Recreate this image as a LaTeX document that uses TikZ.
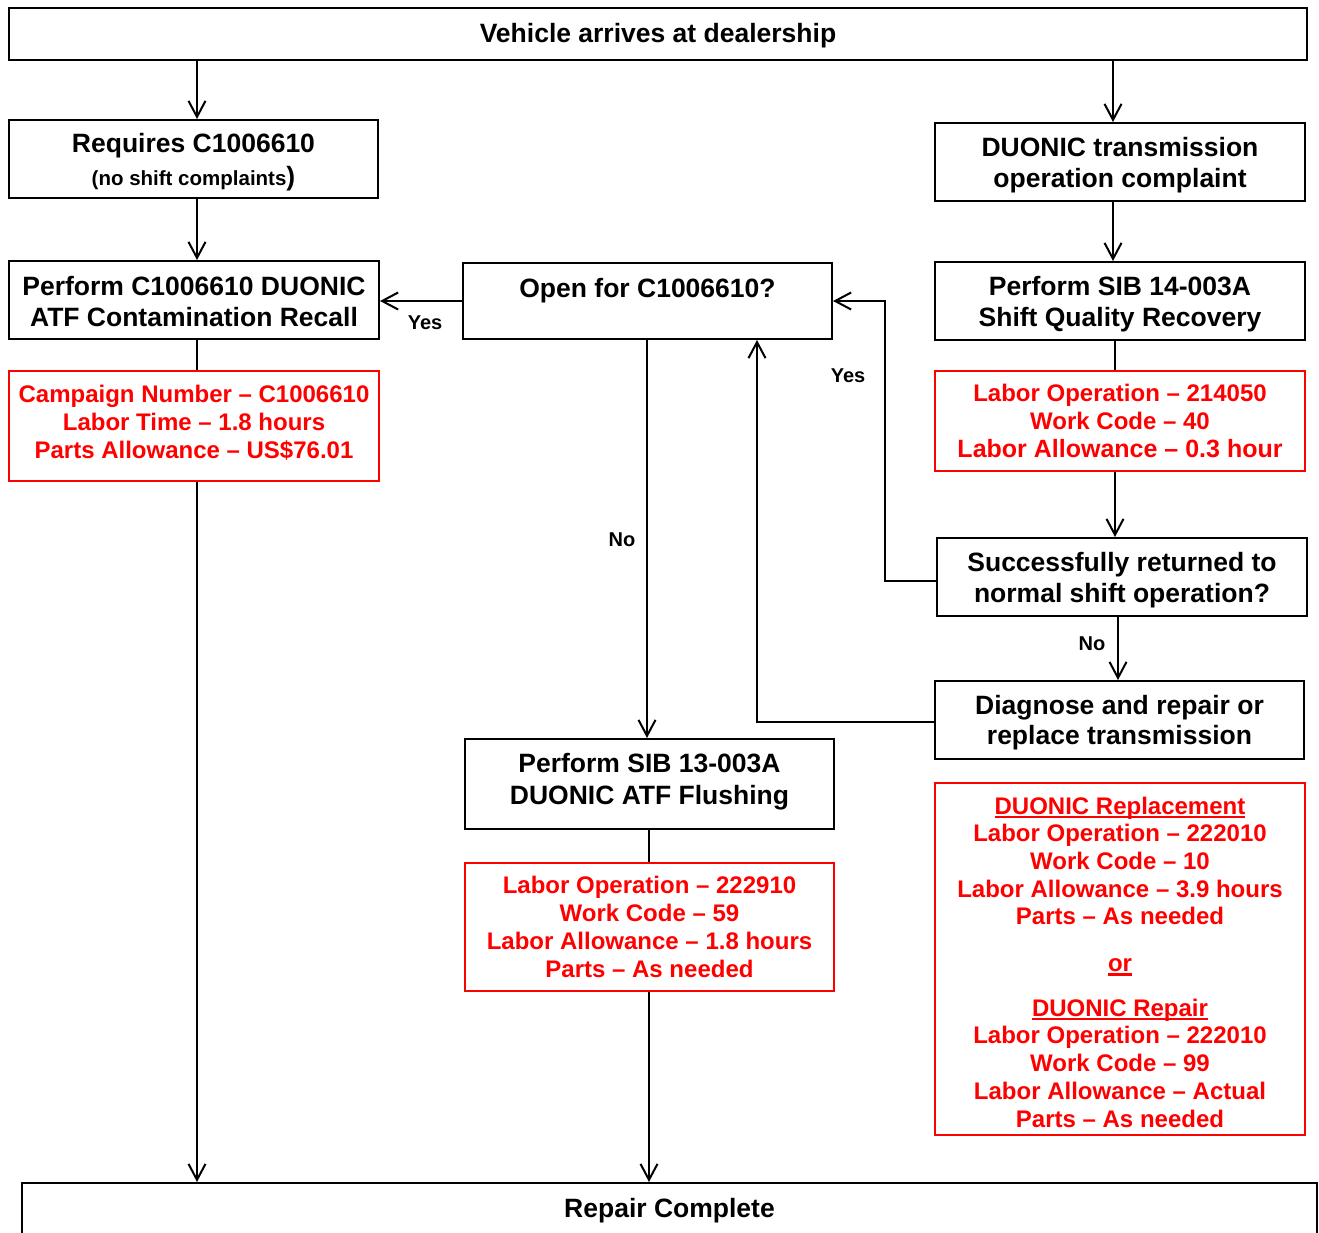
\documentclass[tikz,border=0pt]{standalone}
\usepackage{fontspec}
\setmainfont{Liberation Sans}
\usetikzlibrary{arrows.meta}
\newcommand\myul[1]{\setbox0\hbox{#1}\rlap{\rule[-4pt]{\wd0}{2.3pt}}\box0}
\begin{document}
\begin{tikzpicture}[x=1pt,y=-1pt,
  box/.style={draw=black, line width=2pt, inner sep=0pt},
  redbox/.style={draw=red, line width=2pt, inner sep=0pt},
  txt/.style={inner sep=0pt, align=center, text=black,
    font=\bfseries\fontsize{26.5}{31}\selectfont},
  redtxt/.style={inner sep=0pt, align=center, text=red,
    font=\bfseries\fontsize{24}{28}\selectfont},
  conn/.style={draw=black, line width=2pt},
  arr/.style={conn, -{Straight Barb[length=16pt,width=17pt,line width=2pt]}},
  lbl/.style={font=\bfseries\fontsize{20}{24}\selectfont, inner sep=0pt}]
\useasboundingbox (0,0) rectangle (1319,1232);
\fill[white] (0,0) rectangle (1319,1232);

% boxes
\node[box, minimum width=1298, minimum height=52] (top) at (658,34) {};
\node[txt] (topT) at (658,36) {Vehicle arrives at dealership};
\node[box, minimum width=369, minimum height=78] (req) at (193.5,159) {};
\node[txt] (reqT) at (193.5,162)
  {Requires C1006610\\[2pt]{\fontsize{20.5}{31}\selectfont(no shift complaints}\/)};
\node[box, minimum width=370, minimum height=78] (duo) at (1120,162) {};
\node[txt] (duoT) at (1120,165) {DUONIC transmission\\operation complaint};
\node[box, minimum width=370, minimum height=78] (perfC) at (194,300) {};
\node[txt] (perfCT) at (194,301.5) {Perform C1006610 DUONIC\\ATF Contamination Recall};
\node[box, minimum width=369, minimum height=76] (open) at (647.5,301) {};
\node[txt] (openT) at (647.5,291) {Open for C1006610?};
\node[box, minimum width=370, minimum height=78] (sib14) at (1120,301) {};
\node[txt] (sib14T) at (1120,304) {Perform SIB 14-003A\\Shift Quality Recovery};
\node[redbox, minimum width=370, minimum height=110] (redL) at (194,426) {};
\node[redtxt] (redLT) at (194,423)
  {Campaign Number – C1006610\\Labor Time – 1.8 hours\\Parts Allowance – US\$76.01};
\node[redbox, minimum width=370, minimum height=100] (redR) at (1120,421) {};
\node[redtxt] (redRT) at (1120,421)
  {Labor Operation – 214050\\Work Code – 40\\{\fontsize{25}{28}\selectfont Labor Allowance – 0.3 hour}};
\node[box, minimum width=370, minimum height=78] (succ) at (1122,577) {};
\node[txt] (succT) at (1122,580) {Successfully returned to\\normal shift operation?};
\node[box, minimum width=369, minimum height=78] (diag) at (1119.5,720) {};
\node[txt, font=\bfseries\fontsize{26.5}{30}\selectfont] (diagT) at (1119.5,723)
  {Diagnose and repair or\\replace transmission};
\node[box, minimum width=369, minimum height=90] (sib13) at (649.5,784) {};
\node[txt, font=\bfseries\fontsize{26.5}{32}\selectfont] (sib13T) at (649.5,782)
  {Perform SIB 13-003A\\DUONIC ATF Flushing};
\node[redbox, minimum width=369, minimum height=128] (redM) at (649.5,927) {};
\node[redtxt] (redMT) at (649.5,927)
  {Labor Operation – 222910\\Work Code – 59\\Labor Allowance – 1.8 hours\\Parts – As needed};
\node[redbox, minimum width=370, minimum height=352] (redB) at (1120,959) {};
\node[redtxt, font=\bfseries\fontsize{24}{27.7}\selectfont] (redBT) at (1120,962)
  {\myul{DUONIC Replacement}\\Labor Operation – 222010\\Work Code – 10\\Labor Allowance – 3.9 hours\\Parts – As needed\\[19pt]
   \myul{or}\\[17pt]
   \myul{DUONIC Repair}\\Labor Operation – 222010\\Work Code – 99\\Labor Allowance – Actual\\Parts – As needed};
\node[box, minimum width=1295, minimum height=51] (rep) at (669.5,1208.5) {};
\node[txt] (repT) at (669.5,1210.5) {Repair Complete};

% connectors
\draw[arr] (top.south -| 197,0) -- (req.north -| 197,0);
\draw[arr] (top.south -| 1113,0) -- (duo.north -| 1113,0);
\draw[arr] (req.south -| 197,0) -- (perfC.north -| 197,0);
\draw[arr] (duo.south -| 1113,0) -- (sib14.north -| 1113,0);
\draw[arr] (open.west) -- (perfC.east |- open.west);
\node[lbl] (yes1) at (425,323) {Yes};
\draw[conn] (perfC.south -| 197,0) -- (redL.north -| 197,0);
\draw[arr] (redL.south -| 197,0) -- (rep.north -| 197,0);
\draw[arr] (open.south -| 647,0) -- (sib13.north -| 647,0);
\node[lbl] (no1) at (622,540) {No};
\draw[conn] (sib14.south -| 1115,0) -- (redR.north -| 1115,0);
\draw[arr] (redR.south -| 1115,0) -- (succ.north -| 1115,0);
\draw[arr] (succ.west |- 0,581) -- (885,581) -- (open.east -| 885,0) -- (open.east);
\node[lbl] (yes2) at (848,376) {Yes};
\draw[arr] (succ.south -| 1118,0) -- (diag.north -| 1118,0);
\node[lbl] (no2) at (1092,644) {No};
\draw[arr] (diag.west |- 0,722) -- (757,722) -- (open.south -| 757,0);
\draw[conn] (sib13.south -| 649,0) -- (redM.north -| 649,0);
\draw[arr] (redM.south -| 649,0) -- (rep.north -| 649,0);
\end{tikzpicture}
\end{document}
